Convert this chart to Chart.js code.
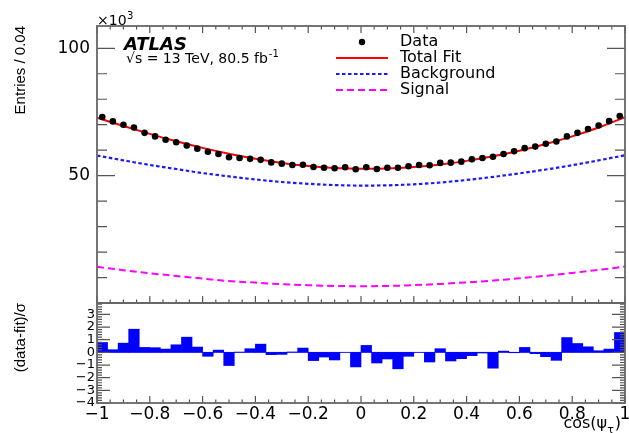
<!DOCTYPE html>
<html lang="en">
<head>
    <meta charset="UTF-8">
    <title>cos(psi_tau) fit</title>
    <script src="https://cdn.jsdelivr.net/npm/chart.js@4.4.0/dist/chart.umd.min.js"></script>
    <style>
        body { margin: 0; background: #fff; }
        #wrap { position: relative; width: 629px; height: 433px; }
        #wrap canvas { position: absolute; left: 0; top: 0; }
    </style>
</head>
<body>

<div id="wrap">
    <canvas id="mainChart" width="629" height="433"></canvas>
    <canvas id="ratioChart" width="629" height="433"></canvas>
</div>

<script>
    // bins of cos(psi_tau), width 0.04
    const binCentres = [-0.98, -0.94, -0.90, -0.86, -0.82, -0.78, -0.74, -0.70, -0.66, -0.62,
                        -0.58, -0.54, -0.50, -0.46, -0.42, -0.38, -0.34, -0.30, -0.26, -0.22,
                        -0.18, -0.14, -0.10, -0.06, -0.02, 0.02, 0.06, 0.10, 0.14, 0.18,
                        0.22, 0.26, 0.30, 0.34, 0.38, 0.42, 0.46, 0.50, 0.54, 0.58,
                        0.62, 0.66, 0.70, 0.74, 0.78, 0.82, 0.86, 0.90, 0.94, 0.98];

    // entries per bin, in units of 10^3
    const dataCounts = [73.0, 71.3, 70.0, 68.9, 66.8, 65.4, 64.1, 63.1, 61.8, 60.6,
                        59.4, 58.5, 57.2, 56.9, 56.6, 56.2, 55.2, 54.7, 54.2, 54.3,
                        53.4, 53.1, 52.9, 53.3, 52.5, 53.3, 52.6, 53.1, 53.1, 53.7,
                        54.2, 54.1, 55.0, 55.1, 55.5, 56.4, 56.9, 57.4, 58.5, 59.6,
                        60.8, 61.4, 62.5, 63.4, 65.4, 66.8, 68.3, 69.7, 71.4, 73.4];

    // (data - fit) / sigma per bin
    const pulls = [0.78, 0.21, 0.73, 1.83, 0.39, 0.37, 0.26, 0.60, 1.20, 0.42,
                   -0.31, 0.18, -1.04, 0.02, 0.29, 0.65, -0.18, -0.16, 0.03, 0.34,
                   -0.65, -0.37, -0.60, 0.00, -1.15, 0.55, -0.84, -0.52, -1.30, -0.31,
                   0.00, -0.76, 0.29, -0.68, -0.50, -0.26, -0.05, -1.25, 0.10, -0.03,
                   0.39, -0.10, -0.34, -0.63, 1.17, 0.70, 0.44, 0.13, 0.26, 1.57];

    // fit components, sampled every 0.1
    const curveX = [-1, -0.9, -0.8, -0.7, -0.6, -0.5, -0.4, -0.3, -0.2, -0.1, 0,
                    0.1, 0.2, 0.3, 0.4, 0.5, 0.6, 0.7, 0.8, 0.9, 1];
    const totalFit = [72.7, 69.5, 66.4, 63.5, 60.9, 58.6, 56.6, 55.0, 53.8, 53.0, 52.7,
                      52.8, 53.4, 54.4, 55.8, 57.6, 59.8, 62.4, 65.4, 68.9, 73.0];
    const background = [57.9, 56.0, 54.2, 52.6, 51.0, 49.7, 48.5, 47.5, 46.8, 46.3, 46.1,
                        46.2, 46.6, 47.3, 48.3, 49.5, 50.9, 52.4, 54.1, 56.0, 58.0];
    const signal = [14.2, 12.9, 11.7, 10.6, 9.6, 8.6, 8.0, 7.4, 7.0, 6.7, 6.6,
                    6.7, 7.0, 7.5, 8.1, 8.8, 9.7, 10.7, 11.8, 13.0, 14.3];

    const xTickLabels = [-1, -0.8, -0.6, -0.4, -0.2, 0, 0.2, 0.4, 0.6, 0.8, 1];
    const yMainLabels = [50, 100];
    const yPullLabels = [-4, -3, -2, -1, 0, 1, 2, 3];

    const FONT = '"DejaVu Sans", sans-serif';
    const TITLE_FONT = '"Liberation Sans", Arial, sans-serif';

    const pts = (xs, ys) => xs.map((x, i) => ({ x: x, y: ys[i] }));
    const fmt = v => {
        const r = Math.round(v * 10) / 10;
        return (r < 0 ? '\u2212' : '') + Math.abs(r);
    };
    const fixWidth = w => s => {
        s.width = w;
        s.paddingTop = 0; s.paddingBottom = 0;
    };

    // ROOT style frame: ticks pointing into the pad on all sides
    const rootAxes = {
        id: 'rootAxes',
        afterDatasetsDraw(chart, args, o) {
            const { ctx, chartArea: a } = chart;
            const xs = chart.scales.x, ys = chart.scales.y;
            ctx.save();
            ctx.strokeStyle = '#555';
            ctx.lineWidth = 1.2;
            ctx.beginPath();
            for (let i = 0; i <= 40; i++) {
                const px = xs.getPixelForValue(-1 + i * 0.05);
                const len = i % 4 === 0 ? 7 : 3.5;
                if (o.topTicks) { ctx.moveTo(px, a.top); ctx.lineTo(px, a.top + len); }
                ctx.moveTo(px, a.bottom); ctx.lineTo(px, a.bottom - len);
            }
            for (let i = 0; i <= o.yCount; i++) {
                const v = o.yFrom + i * o.yMinor;
                const py = ys.getPixelForValue(v);
                const len = i % o.yPerMajor === 0 ? o.yMajorLen : o.yMinorLen;
                ctx.moveTo(a.left, py); ctx.lineTo(a.left + len, py);
                ctx.moveTo(a.right, py); ctx.lineTo(a.right - len, py);
            }
            ctx.stroke();
            ctx.lineWidth = 1.8;
            ctx.strokeStyle = '#666';
            ctx.strokeRect(a.left, a.top, a.width, a.height);
            ctx.restore();
        }
    };

    // exponent, ATLAS label and legend of the upper pad
    const upperText = {
        id: 'upperText',
        afterDraw(chart) {
            const ctx = chart.ctx;
            ctx.save();
            ctx.fillStyle = '#000';
            ctx.textAlign = 'left';
            ctx.textBaseline = 'alphabetic';

            ctx.font = '14px ' + FONT;
            ctx.fillText('\u00d710', 97, 25);
            ctx.font = '10px ' + FONT;
            ctx.fillText('3', 127, 19);

            ctx.font = 'italic bold 18px ' + FONT;
            ctx.fillText('ATLAS', 124, 50);

            ctx.font = '14px ' + FONT;
            const lumi = '\u221as = 13 TeV, 80.5 fb';
            ctx.fillText(lumi, 126, 63);
            const w = ctx.measureText(lumi).width;
            ctx.font = '10px ' + FONT;
            ctx.fillText('-1', 126 + w + 1, 57);

            const rows = [42, 58, 74, 90];
            ctx.font = '16px ' + FONT;
            ctx.textBaseline = 'middle';
            chart.data.datasets.forEach((ds, i) => {
                const y = rows[i];
                if (ds.showLine === false) {
                    ctx.beginPath();
                    ctx.arc(362, y, 3.2, 0, Math.PI * 2);
                    ctx.fill();
                } else {
                    ctx.beginPath();
                    ctx.strokeStyle = ds.borderColor;
                    ctx.lineWidth = ds.borderWidth;
                    ctx.setLineDash(ds.borderDash || []);
                    ctx.moveTo(336, y);
                    ctx.lineTo(388, y);
                    ctx.stroke();
                    ctx.setLineDash([]);
                }
                ctx.fillText(ds.label, 400, y);
            });
            ctx.restore();
        }
    };

    // x axis title with subscript
    const lowerText = {
        id: 'lowerText',
        afterDraw(chart) {
            const ctx = chart.ctx;
            ctx.save();
            ctx.fillStyle = '#000';
            ctx.textBaseline = 'alphabetic';
            ctx.font = '16px ' + FONT;
            const a = 'cos(\u03c8', c = ')';
            const wa = ctx.measureText(a).width, wc = ctx.measureText(c).width;
            ctx.font = '11px ' + FONT;
            const wb = ctx.measureText('\u03c4').width;
            const x0 = 621 - wa - wb - wc - 1;
            ctx.font = '16px ' + FONT;
            ctx.fillText(a, x0, 428);
            ctx.font = '11px ' + FONT;
            ctx.fillText('\u03c4', x0 + wa, 433);
            ctx.font = '16px ' + FONT;
            ctx.fillText(c, x0 + wa + wb + 1, 428);
            ctx.restore();
        }
    };

    new Chart(document.getElementById('mainChart'), {
        type: 'line',
        data: {
            datasets: [{
                label: 'Data',
                data: pts(binCentres, dataCounts),
                showLine: false,
                pointRadius: 3.3,
                pointBackgroundColor: '#000',
                pointBorderWidth: 0
            }, {
                label: 'Total Fit',
                data: pts(curveX, totalFit),
                borderColor: '#ff0000',
                borderWidth: 2,
                pointRadius: 0,
                cubicInterpolationMode: 'monotone'
            }, {
                label: 'Background',
                data: pts(curveX, background),
                borderColor: '#1a1aff',
                borderWidth: 2.2,
                borderDash: [3.5, 2.5],
                pointRadius: 0,
                cubicInterpolationMode: 'monotone'
            }, {
                label: 'Signal',
                data: pts(curveX, signal),
                borderColor: '#ff00ff',
                borderWidth: 2,
                borderDash: [7, 4],
                pointRadius: 0,
                cubicInterpolationMode: 'monotone'
            }]
        },
        options: {
            responsive: false,
            animation: false,
            layout: { padding: { top: 26, right: 4, bottom: 130, left: 0 } },
            plugins: {
                legend: { display: false },
                tooltip: { enabled: false },
                rootAxes: { topTicks: true, yFrom: 0, yMinor: 10, yCount: 10, yPerMajor: 5, yMajorLen: 18, yMinorLen: 10 }
            },
            scales: {
                x: { type: 'linear', min: -1, max: 1, display: false },
                y: {
                    min: 0,
                    max: 108.75,
                    afterBuildTicks: s => { s.ticks = yMainLabels.map(v => ({ value: v })); },
                    afterFit: fixWidth(97),
                    grid: { display: false, drawTicks: false },
                    border: { display: false },
                    ticks: { autoSkip: false, padding: 7, color: '#000', font: { family: FONT, size: 17 } },
                    title: {
                        display: true,
                        text: 'Entries / 0.04',
                        align: 'end',
                        color: '#000',
                        padding: { top: 12, bottom: 0 },
                        font: { family: TITLE_FONT, size: 15 }
                    }
                }
            }
        },
        plugins: [rootAxes, upperText]
    });

    new Chart(document.getElementById('ratioChart'), {
        type: 'bar',
        data: {
            datasets: [{
                type: 'bar',
                data: pts(binCentres, pulls),
                backgroundColor: '#0000ff',
                borderWidth: 0,
                barPercentage: 1,
                categoryPercentage: 1
            }, {
                type: 'line',
                data: [{ x: -1, y: 0 }, { x: 1, y: 0 }],
                borderColor: '#8080ff',
                borderWidth: 1,
                pointRadius: 0
            }]
        },
        options: {
            responsive: false,
            animation: false,
            layout: { padding: { top: 303, right: 4, bottom: 0, left: 0 } },
            plugins: {
                legend: { display: false },
                tooltip: { enabled: false },
                rootAxes: { topTicks: false, yFrom: -4, yMinor: 0.2, yCount: 39, yPerMajor: 5, yMajorLen: 13, yMinorLen: 5 }
            },
            scales: {
                x: {
                    type: 'linear',
                    min: -1,
                    max: 1,
                    offset: false,
                    afterBuildTicks: s => { s.ticks = xTickLabels.map(v => ({ value: v })); },
                    afterFit: s => { s.height = 30; s.paddingLeft = 0; s.paddingRight = 0; },
                    grid: { display: false, drawTicks: false },
                    border: { display: false },
                    ticks: {
                        autoSkip: false, maxRotation: 0, minRotation: 0, padding: 1,
                        color: '#000', font: { family: FONT, size: 17 },
                        callback: v => fmt(v)
                    }
                },
                y: {
                    min: -4,
                    max: 3.9,
                    afterBuildTicks: s => { s.ticks = yPullLabels.map(v => ({ value: v })); },
                    afterFit: fixWidth(97),
                    grid: { display: false, drawTicks: false },
                    border: { display: false },
                    ticks: {
                        autoSkip: false, padding: 2, color: '#000',
                        font: { family: FONT, size: 13, lineHeight: 1 },
                        callback: v => fmt(v)
                    },
                    title: {
                        display: true,
                        text: '(data-fit)/\u03c3',
                        align: 'end',
                        color: '#000',
                        padding: { top: 12, bottom: 0 },
                        font: { family: TITLE_FONT, size: 15 }
                    }
                }
            }
        },
        plugins: [rootAxes, lowerText]
    });
</script>
</body>
</html>
